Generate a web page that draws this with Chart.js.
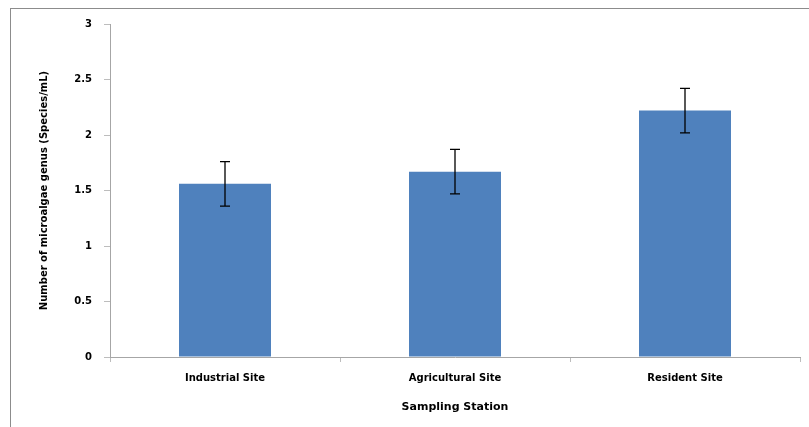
<!DOCTYPE html>
<html>
<head>
<meta charset="utf-8">
<script src="https://cdn.jsdelivr.net/npm/chart.js@4.4.0/dist/chart.umd.min.js"></script>
<style>
  html, body { margin: 0; padding: 0; background: #fff; overflow: hidden; }
  #wrap { position: relative; width: 809px; height: 427px; }
  #frame { position: absolute; left: 10px; top: 8px; width: 820px; height: 440px; border: 1px solid #8c8c8c; box-sizing: border-box; }
  canvas { position: absolute; left: 0; top: 0; }
</style>
</head>
<body>
<div id="wrap">
  <div id="frame"></div>
  <canvas id="chart" width="809" height="427"></canvas>
</div>
<script>
const categories = ['Industrial Site', 'Agricultural Site', 'Resident Site'];
const genusCounts = [1.56, 1.67, 2.22];
const errors = [0.2, 0.2, 0.2];
const yTicks = [0, 0.5, 1, 1.5, 2, 2.5, 3];

const tickFont = { family: 'DejaVu Sans', size: 10, weight: 'bold' };

// draws the black error bars on top of each bar
const errorBars = {
    id: 'errorBars',
    afterDatasetsDraw(chart) {
        const ctx = chart.ctx;
        const y = chart.scales.y;
        const meta = chart.getDatasetMeta(0);
        ctx.save();
        ctx.strokeStyle = '#000';
        ctx.lineWidth = 1.3;
        meta.data.forEach((bar, i) => {
            const top = y.getPixelForValue(genusCounts[i] + errors[i]);
            const bot = y.getPixelForValue(genusCounts[i] - errors[i]);
            ctx.beginPath();
            ctx.moveTo(bar.x, top);
            ctx.lineTo(bar.x, bot);
            ctx.moveTo(bar.x - 5, top);
            ctx.lineTo(bar.x + 5, top);
            ctx.moveTo(bar.x - 5, bot);
            ctx.lineTo(bar.x + 5, bot);
            ctx.stroke();
        });
        ctx.restore();
    }
};

new Chart(document.getElementById('chart'), {
    type: 'bar',
    data: {
        labels: categories,
        datasets: [{
            data: genusCounts,
            backgroundColor: '#4f81bd',
            borderWidth: 0,
            categoryPercentage: 1,
            barPercentage: 0.4
        }]
    },
    options: {
        responsive: false,
        animation: false,
        layout: { padding: { top: 24, right: 9, left: 0, bottom: 0 } },
        plugins: { legend: { display: false }, tooltip: { enabled: false } },
        scales: {
            x: {
                afterFit: s => { s.height = 70; },
                grid: { drawOnChartArea: false, drawTicks: true, tickLength: 5, color: '#bdbdbd' },
                border: { color: '#a6a6a6', width: 1 },
                ticks: { color: '#000', font: tickFont, padding: 10, maxRotation: 0 },
                title: {
                    display: true, text: 'Sampling Station', color: '#000',
                    font: { family: 'DejaVu Sans', size: 11, weight: 'bold' },
                    padding: { top: 4, bottom: 13 }
                }
            },
            y: {
                min: 0, max: 3,
                afterFit: s => { s.width = 110; },
                afterBuildTicks: s => { s.ticks = yTicks.map(v => ({ value: v })); },
                grid: { drawOnChartArea: false, drawTicks: true, tickLength: 6, color: '#bdbdbd' },
                border: { color: '#a6a6a6', width: 1 },
                ticks: { color: '#000', font: tickFont, padding: 12, callback: v => String(v) },
                title: {
                    display: true, text: 'Number of microalgae genus (Species/mL)', color: '#000',
                    font: { family: 'DejaVu Sans', size: 10, weight: 'bold' },
                    padding: { top: 38, bottom: 0 }
                }
            }
        }
    },
    plugins: [errorBars]
});
</script>
</body>
</html>
